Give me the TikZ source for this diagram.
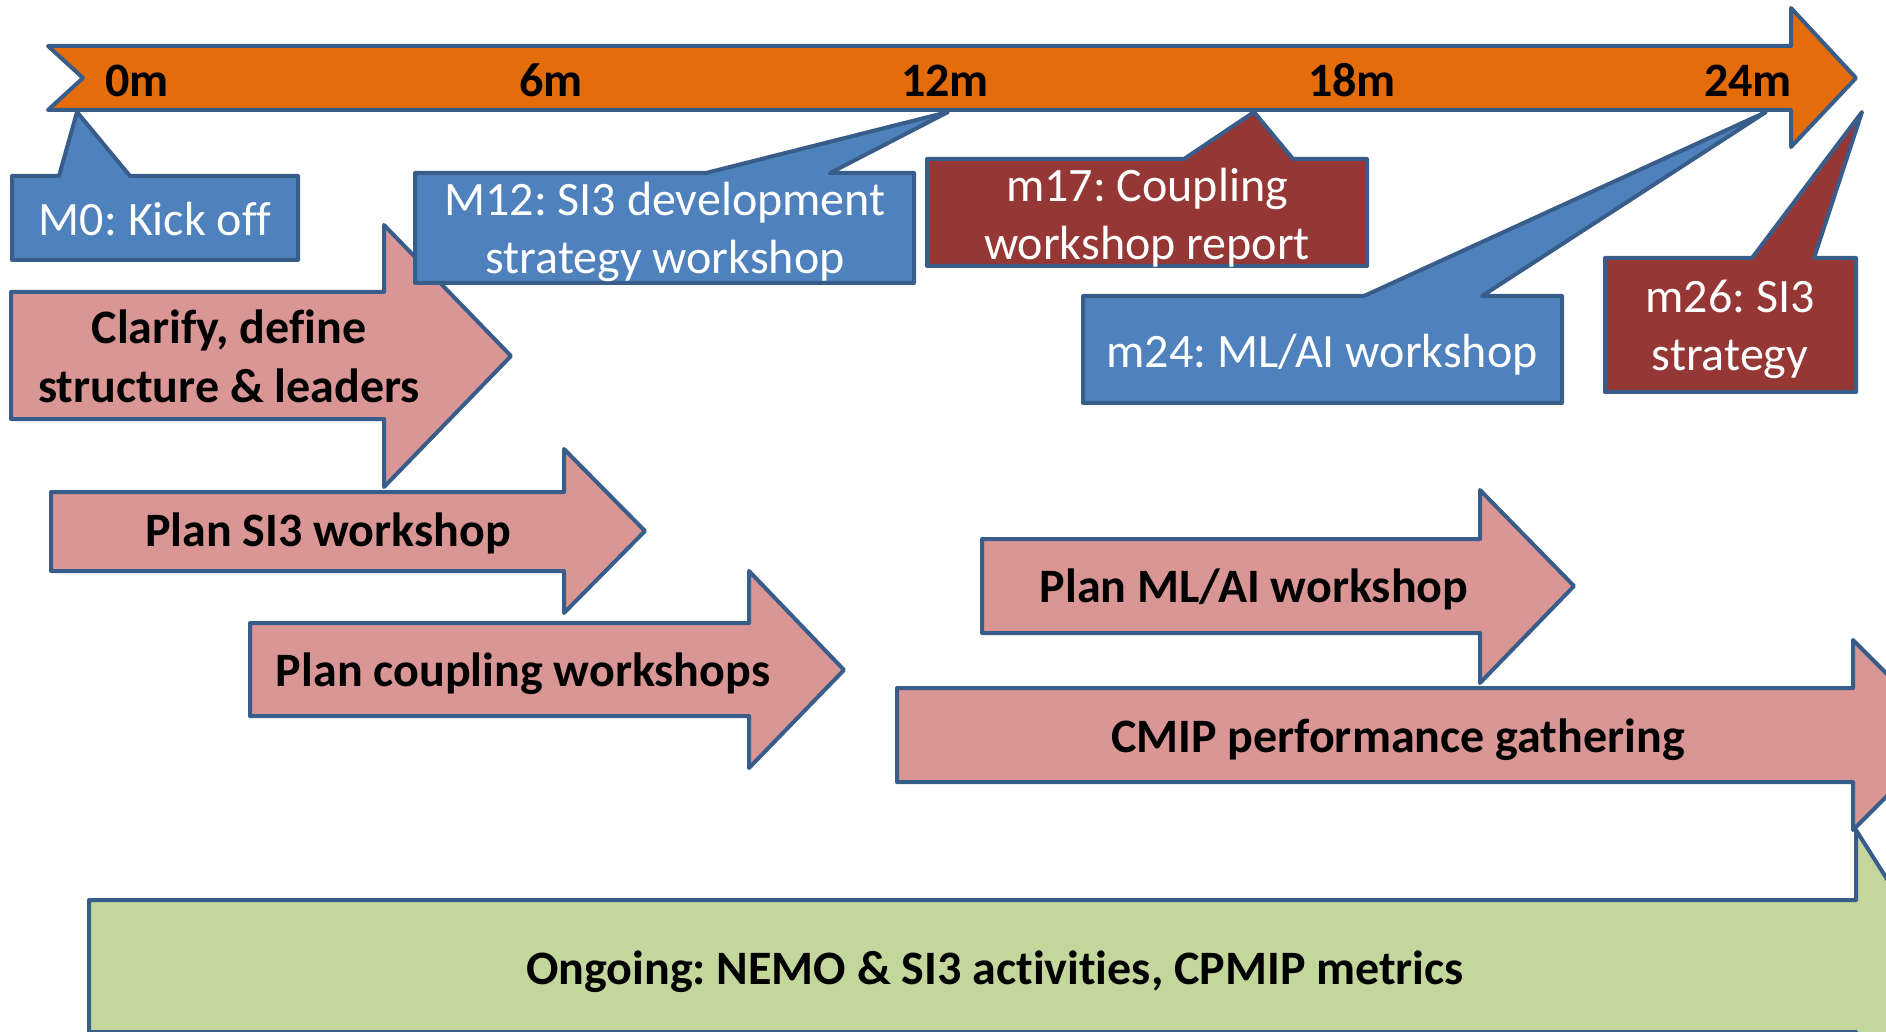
\documentclass[tikz,border=0pt]{standalone}
\usepackage{fontspec}
\setmainfont{Carlito}[Ligatures=NoCommon]
\frenchspacing
\definecolor{barorange}{HTML}{E46C0A}
\definecolor{edgeblue}{HTML}{385D8A}
\definecolor{calloutblue}{HTML}{4F81BD}
\definecolor{calloutred}{HTML}{953735}
\definecolor{taskpink}{HTML}{D99694}
\definecolor{ongoinggreen}{HTML}{C3D69B}
\tikzset{every picture/.style={line width=2pt}}

\begin{document}
\begin{tikzpicture}[x=0.5pt,y=0.5pt,yscale=-1,xscale=1,
  shape edge/.style={draw=edgeblue, line join=round},
  white text/.style={text=white, font=\fontsize{24}{29.3}\selectfont, align=center, inner sep=0pt, anchor=base},
  bold text/.style={text=black, font=\fontsize{24}{29.3}\selectfont\bfseries, align=center, inner sep=0pt, anchor=base}]
\path[use as bounding box, clip] (0,0) rectangle (1886,1032);

% Right Arrow: ongoing
\draw [shape edge, fill=ongoinggreen] (89,900) -- (1856,900) -- (1856,830) -- (1942,966) -- (1856,1102) -- (1856,1032) -- (89,1032) -- cycle ;
\draw (995,984) node [bold text] (ongoing) {Ongoing: NEMO \& SI3 activities, CPMIP metrics};
% Right Arrow: clarify
\draw [shape edge, fill=taskpink] (11,292) -- (384,292) -- (384,225) -- (511,356) -- (384,487) -- (384,419) -- (11,419) -- cycle ;
\draw (229,402) node [bold text] (clarify) {Clarify, define\\structure \& leaders};
% Right Arrow: plan SI3
\draw [shape edge, fill=taskpink] (51,492) -- (564,492) -- (564,449) -- (645,531) -- (564,613) -- (564,571) -- (51,571) -- cycle ;
\draw (328,546) node [bold text] (plansi) {Plan SI3 workshop};
% Right Arrow: plan coupling
\draw [shape edge, fill=taskpink] (250,623) -- (749,623) -- (749,571) -- (844,670) -- (749,768) -- (749,716) -- (250,716) -- cycle ;
\draw (523,686) node [bold text] (plancoup) {Plan coupling workshops};
% Right Arrow: plan ML/AI
\draw [shape edge, fill=taskpink] (982,539) -- (1480,539) -- (1480,490) -- (1574,586) -- (1480,683) -- (1480,633) -- (982,633) -- cycle ;
\draw (1254,602) node [bold text] (planml) {Plan ML/AI workshop};
% Right Arrow: CMIP
\draw [shape edge, fill=taskpink] (897,688) -- (1853,688) -- (1853,640) -- (1948,735) -- (1853,830) -- (1853,782) -- (897,782) -- cycle ;
\draw (1398,752) node [bold text] (cmip) {CMIP performance gathering};

% Notched Arrow: timeline
\draw [shape edge, fill=barorange] (48,46) -- (1791,46) -- (1791,8) -- (1856,78) -- (1791,147) -- (1791,110) -- (48,110) -- (83,78) -- cycle ;
% Text Node
\draw (137,97) node [bold text] (m0) {0m};
\draw (551,97) node [bold text] (m6) {6m};
\draw (945,97) node [bold text] (m12) {12m};
\draw (1352,97) node [bold text] (m18) {18m};
\draw (1748,97) node [bold text] (m24) {24m};

% Callout: M0
\draw [shape edge, fill=calloutblue] (12,176) -- (59,176) -- (77,112) -- (130,176) -- (298,176) -- (298,260) -- (12,260) -- cycle ;
\draw (155,236) node [white text] (kickoff) {M0: Kick off};
% Callout: M12
\draw [shape edge, fill=calloutblue] (415,173) -- (706,173) -- (948,112) -- (830,173) -- (914,173) -- (914,283) -- (415,283) -- cycle ;
\draw (665,274) node [white text] (devws) {M12: SI3 development\\strategy workshop};
% Callout: m17
\draw [shape edge, fill=calloutred] (927,159) -- (1184,159) -- (1254,112) -- (1293,159) -- (1367,159) -- (1367,266) -- (927,266) -- cycle ;
\draw (1147,260) node [white text] (coupreport) {m17: Coupling\\workshop report};
% Callout: m24
\draw [shape edge, fill=calloutblue] (1083,296) -- (1364,296) -- (1766,112) -- (1482,296) -- (1562,296) -- (1562,403) -- (1083,403) -- cycle ;
\draw (1322,368) node [white text] (mlws) {m24: ML/AI workshop};
% Callout: m26
\draw [shape edge, fill=calloutred] (1605,258) -- (1752,258) -- (1862,112) -- (1814,258) -- (1856,258) -- (1856,392) -- (1605,392) -- cycle ;
\draw (1730,371) node [white text] (sistrat) {m26: SI3\\strategy};

\end{tikzpicture}
\end{document}
